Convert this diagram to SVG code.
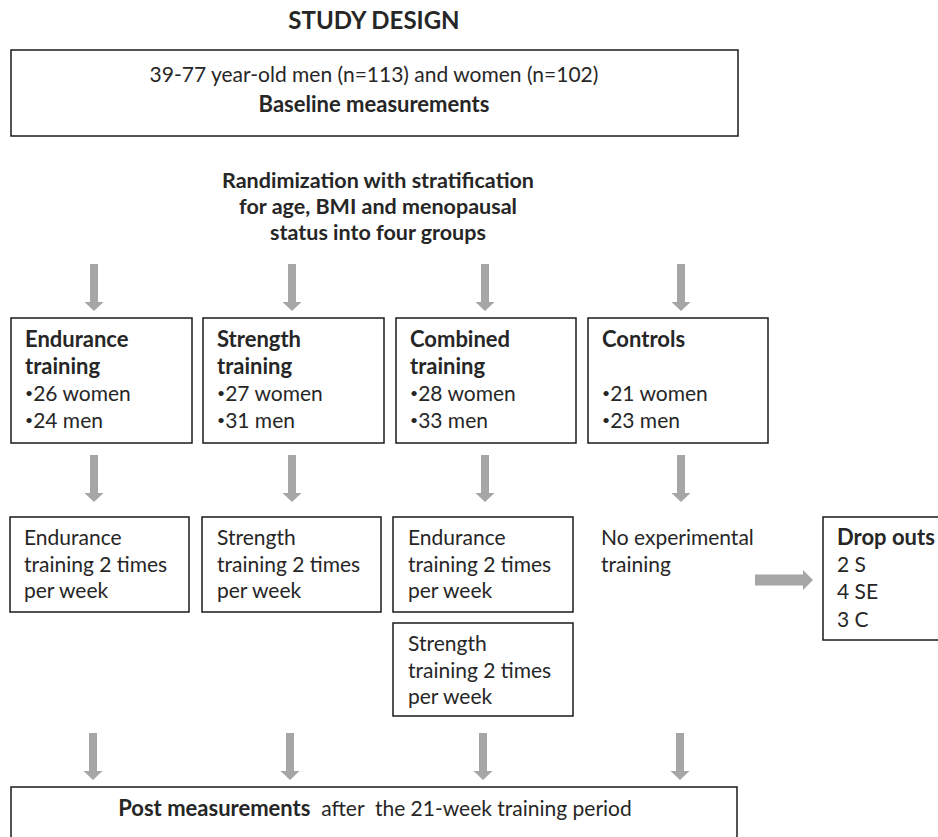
<svg xmlns="http://www.w3.org/2000/svg" width="938" height="837" viewBox="0 0 938 837">
<style>
text{font-family:Lato,"Open Sans","Liberation Sans",sans-serif;fill:#262626;font-size:21px}
.b{font-weight:bold;font-size:22px}
.bu{font-size:14px}
.box{fill:#fff;stroke:#1a1a1a;stroke-width:1.5}
.arr{fill:#a6a6a6}
</style>
<defs>
<path id="va" d="M-4,0H4V38H9.5L0,47L-9.5,38H-4Z"/>
</defs>
<rect width="938" height="837" fill="#fff"/>
<text class="b" x="374" y="29" text-anchor="middle" style="font-size:24px">STUDY DESIGN</text>
<g id="baseline">
<rect class="box" x="11" y="50" width="727" height="86"/>
<text x="374" y="82" text-anchor="middle">39-77 year-old men (n=113) and women (n=102)</text>
<text class="b" x="374" y="112" text-anchor="middle">Baseline measurements</text>
</g>
<g id="randomization">
<text class="b" x="378" y="188" text-anchor="middle" style="font-size:21.5px">Randimization with stratification</text>
<text class="b" x="378" y="214" text-anchor="middle" style="font-size:21.5px">for age, BMI and menopausal</text>
<text class="b" x="378" y="240" text-anchor="middle" style="font-size:21.5px">status into four groups</text>
</g>
<g id="endurance">
<rect class="box" x="11" y="318" width="181" height="125"/>
<text class="b" x="25" y="347">Endurance</text>
<text class="b" x="25" y="374">training</text>
<text x="25" y="401"><tspan class="bu" dy="-3">•</tspan><tspan dy="3">26 women</tspan></text>
<text x="25" y="428"><tspan class="bu" dy="-3">•</tspan><tspan dy="3">24 men</tspan></text>
</g>
<g id="strength">
<rect class="box" x="203" y="318" width="181" height="125"/>
<text class="b" x="217" y="347">Strength</text>
<text class="b" x="217" y="374">training</text>
<text x="217" y="401"><tspan class="bu" dy="-3">•</tspan><tspan dy="3">27 women</tspan></text>
<text x="217" y="428"><tspan class="bu" dy="-3">•</tspan><tspan dy="3">31 men</tspan></text>
</g>
<g id="combined">
<rect class="box" x="396" y="318" width="180" height="125"/>
<text class="b" x="410" y="347">Combined</text>
<text class="b" x="410" y="374">training</text>
<text x="410" y="401"><tspan class="bu" dy="-3">•</tspan><tspan dy="3">28 women</tspan></text>
<text x="410" y="428"><tspan class="bu" dy="-3">•</tspan><tspan dy="3">33 men</tspan></text>
</g>
<g id="controls">
<rect class="box" x="588" y="318" width="180" height="125"/>
<text class="b" x="602" y="347">Controls</text>
<text x="602" y="401"><tspan class="bu" dy="-3">•</tspan><tspan dy="3">21 women</tspan></text>
<text x="602" y="428"><tspan class="bu" dy="-3">•</tspan><tspan dy="3">23 men</tspan></text>
</g>
<g id="endurance-plan">
<rect class="box" x="10" y="517" width="179" height="95"/>
<text x="24" y="545">Endurance</text>
<text x="24" y="572">training 2 times</text>
<text x="24" y="598">per week</text>
</g>
<g id="strength-plan">
<rect class="box" x="202" y="517" width="179" height="95"/>
<text x="217" y="545">Strength</text>
<text x="217" y="572">training 2 times</text>
<text x="217" y="598">per week</text>
</g>
<g id="combined-endurance-plan">
<rect class="box" x="393" y="517" width="180" height="95"/>
<text x="408" y="545">Endurance</text>
<text x="408" y="572">training 2 times</text>
<text x="408" y="598">per week</text>
</g>
<g id="combined-strength-plan">
<rect class="box" x="393" y="623" width="180" height="93"/>
<text x="408" y="651">Strength</text>
<text x="408" y="678">training 2 times</text>
<text x="408" y="704">per week</text>
</g>
<g id="controls-plan">
<text x="601" y="545">No experimental</text>
<text x="601" y="572">training</text>
</g>
<g id="dropouts">
<rect class="box" x="823" y="517" width="130" height="123"/>
<text class="b" x="837" y="545">Drop outs</text>
<text x="837" y="572">2 S</text>
<text x="837" y="599">4 SE</text>
<text x="837" y="627">3 C</text>
</g>
<g id="post">
<rect class="box" x="11" y="787" width="726" height="70"/>
<text x="375" y="816" text-anchor="middle" style="white-space:pre"><tspan class="b">Post measurements</tspan>  after  the 21-week training period</text>
</g>
<g id="connectors" class="arr">
<use href="#va" x="94" y="264"/>
<use href="#va" x="292" y="264"/>
<use href="#va" x="485" y="264"/>
<use href="#va" x="681" y="264"/>
<use href="#va" x="94" y="455"/>
<use href="#va" x="292" y="455"/>
<use href="#va" x="485" y="455"/>
<use href="#va" x="681" y="455"/>
<use href="#va" x="93" y="733"/>
<use href="#va" x="290" y="733"/>
<use href="#va" x="483" y="733"/>
<use href="#va" x="680" y="733"/>
<path d="M755,574.5H803V570L813,580L803,590V585.5H755Z"/>
</g>
</svg>
